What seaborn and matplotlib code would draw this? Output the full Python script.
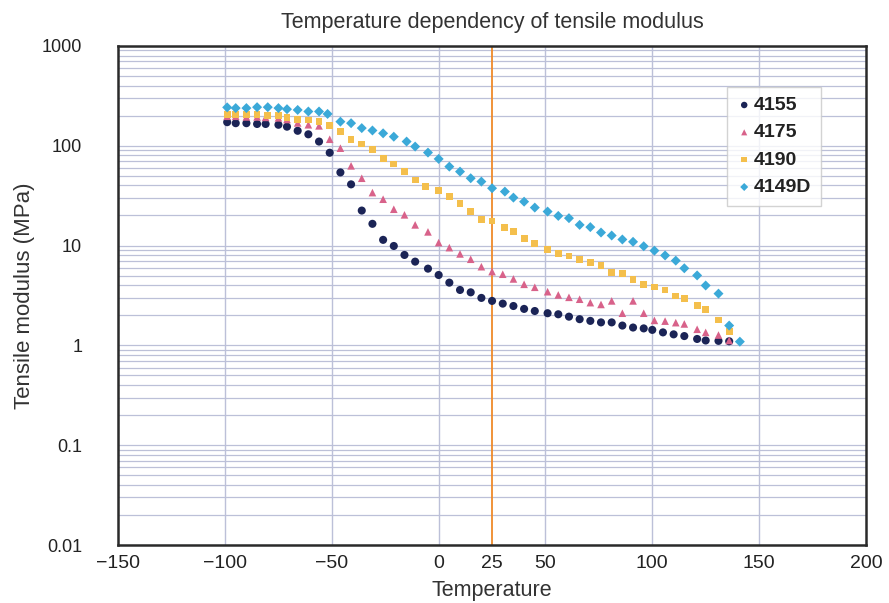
import numpy as np
import pandas as pd
import seaborn as sns
import matplotlib
matplotlib.use("Agg")
import matplotlib.pyplot as plt
from matplotlib.ticker import FixedLocator, LogLocator, NullFormatter

# Tensile modulus (MPa) versus temperature (deg C) for four grades
t_4155 = [-99, -95, -90, -85, -81, -75, -71, -66, -61, -56, -51, -46, -41, -36, -31, -26,
          -21, -16, -11, -5, 0, 5, 10, 15, 20, 25, 30, 35, 40, 45, 51, 56, 61, 66, 71, 76,
          81, 86, 91, 96, 100, 105, 110, 115, 121, 125, 131, 136]
e_4155 = [172, 168, 168, 165, 165, 162, 155, 141, 130, 110, 85, 54, 41, 22.4, 16.5, 11.4,
          9.9, 8.05, 6.9, 5.87, 5.07, 4.25, 3.59, 3.40, 2.99, 2.79, 2.62, 2.48, 2.32, 2.21,
          2.10, 2.05, 1.94, 1.83, 1.76, 1.70, 1.70, 1.58, 1.51, 1.48, 1.43, 1.35, 1.29, 1.24,
          1.16, 1.12, 1.11, 1.10]

t_4175 = [-99, -95, -90, -85, -81, -75, -71, -66, -61, -56, -51, -46, -41, -36, -31, -26,
          -21, -16, -11, -5, 0, 5, 10, 15, 20, 25, 30, 35, 40, 45, 51, 56, 61, 66, 71, 76,
          81, 86, 91, 96, 101, 106, 111, 115, 121, 125, 131, 136]
e_4175 = [197, 197, 194, 194, 192, 190, 183, 169, 162, 158, 116, 94.4, 62.8, 47.2, 33.9, 29.1,
          23.1, 20.3, 16.1, 13.7, 10.7, 9.53, 8.24, 7.29, 6.14, 5.48, 5.16, 4.63, 4.09, 3.82,
          3.45, 3.20, 3.03, 2.90, 2.68, 2.57, 2.79, 2.10, 2.79, 2.10, 1.78, 1.75, 1.69, 1.64,
          1.45, 1.35, 1.27, 1.12]

t_4190 = [-99, -95, -90, -85, -80, -75, -71, -66, -61, -56, -51, -46, -41, -36, -31, -26,
          -21, -16, -11, -6, 0, 5, 10, 15, 20, 25, 31, 35, 40, 45, 51, 56, 61, 66, 71, 76,
          81, 86, 91, 96, 101, 106, 111, 115, 121, 125, 131, 136]
e_4190 = [207, 207, 204, 204, 199, 199, 193, 184, 181, 174, 158, 138, 116, 104, 92.2, 74.9,
          65.7, 55.0, 45.4, 38.9, 35.7, 30.7, 26.4, 21.9, 18.3, 17.6, 15.3, 13.8, 11.8, 10.4,
          9.18, 8.37, 7.87, 7.29, 6.74, 6.32, 5.35, 5.23, 4.55, 4.10, 3.85, 3.59, 3.13, 2.93,
          2.50, 2.30, 1.80, 1.37]

t_4149d = [-99, -95, -90, -85, -80, -75, -71, -66, -61, -56, -52, -46, -41, -36, -31, -26,
           -21, -15, -11, -5, 0, 5, 10, 15, 20, 25, 31, 35, 40, 45, 51, 56, 61, 66, 71, 76,
           81, 86, 91, 96, 101, 106, 111, 115, 121, 125, 131, 136, 141]
e_4149d = [242, 238, 238, 243, 243, 238, 232, 228, 220, 220, 208, 174, 168, 150, 142, 133,
           123, 110, 98, 85.3, 73.7, 61.7, 55.0, 47.2, 43.7, 37.5, 34.7, 30.2, 27.5, 24.0,
           21.9, 19.8, 18.8, 16.1, 15.3, 13.5, 12.6, 11.5, 10.9, 9.84, 8.89, 7.96, 7.06, 5.92,
           5.02, 3.98, 3.30, 1.58, 1.09]

grades = ["4155", "4175", "4190", "4149D"]
x_ticks = [-150, -100, -50, 0, 25, 50, 100, 150, 200]
y_ticks = [0.01, 0.1, 1, 10, 100, 1000]
y_tick_labels = ["0.01", "0.1", "1", "10", "100", "1000"]
ref_temperature = 25

series = {"4155": (t_4155, e_4155), "4175": (t_4175, e_4175),
          "4190": (t_4190, e_4190), "4149D": (t_4149d, e_4149d)}
df = pd.concat([pd.DataFrame({"Temperature": t, "Modulus": e, "Grade": g})
                for g, (t, e) in series.items()], ignore_index=True)

palette = {"4155": "#1b2456", "4175": "#d8628a", "4190": "#f4bf4c", "4149D": "#3ba9d8"}
markers = {"4155": "o", "4175": "^", "4190": "s", "4149D": "D"}
sizes = {"4155": 34, "4175": 30, "4190": 24, "4149D": 26}

sns.set_theme(style="white")
plt.rcParams["font.family"] = ["Liberation Sans", "DejaVu Sans"]

fig = plt.figure(figsize=(8.89, 6.03), dpi=100)
ax = fig.add_axes([0.133, 0.096, 0.841, 0.828])

grid_col = "#bcc0d8"
ax.set_yscale("log")
ax.set_xlim(-150, 200)
ax.set_ylim(0.01, 1000)

# grid: vertical lines at the main temperatures, dense horizontal lines per decade
ax.xaxis.set_major_locator(FixedLocator(x_ticks))
ax.yaxis.set_major_locator(FixedLocator(y_ticks))
ax.yaxis.set_minor_locator(LogLocator(base=10, subs=np.arange(2, 10)))
ax.yaxis.set_minor_formatter(NullFormatter())
ax.set_yticklabels(y_tick_labels)
for v in [-100, -50, 0, 50, 100, 150]:
    ax.axvline(v, color=grid_col, lw=1.0, zorder=0)
ax.grid(True, axis="y", which="both", color=grid_col, lw=0.9, zorder=0)
ax.set_axisbelow(True)

ax.axvline(ref_temperature, color="#ef8a2a", lw=1.3, zorder=1)

for g in grades:
    sub = df[df["Grade"] == g]
    sns.scatterplot(data=sub, x="Temperature", y="Modulus", ax=ax, color=palette[g],
                    marker=markers[g], s=sizes[g], edgecolor="none", label=g, zorder=3)

for s in ax.spines.values():
    s.set_color("#2a2a2a")
    s.set_linewidth(1.8)

ax.tick_params(axis="x", which="both", length=0, labelsize=14, colors="#222222", pad=7)
ax.tick_params(axis="y", which="both", length=0, labelsize=13, colors="#222222", pad=26)
ax.set_xlabel("Temperature", fontsize=15.5, color="#333333", labelpad=6)
ax.set_ylabel("Tensile modulus (MPa)", fontsize=16, color="#333333", labelpad=5)
ax.set_title("Temperature dependency of tensile modulus", fontsize=15.5, color="#333333", pad=13)

leg = ax.legend(loc="upper right", bbox_to_anchor=(0.94, 0.918), borderaxespad=0,
                frameon=True, fancybox=False, handletextpad=0.1, labelspacing=0.5,
                borderpad=0.5, markerscale=0.8, handlelength=0.8,
                prop={"size": 14, "weight": "bold"})
leg.get_frame().set_edgecolor("#c8c8c8")
leg.get_frame().set_linewidth(1.0)
for txt in leg.get_texts():
    txt.set_color("#222222")

fig.savefig("out.png", dpi=100, facecolor="white")
